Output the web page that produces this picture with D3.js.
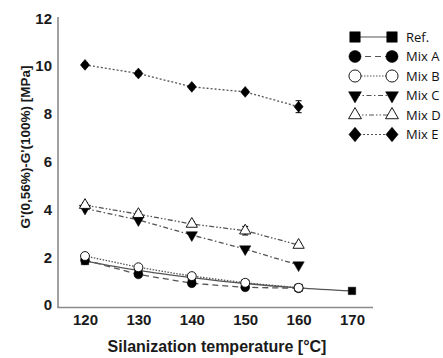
<!DOCTYPE html>
<html><head><meta charset="utf-8">
<script src="https://cdn.jsdelivr.net/npm/d3@7"></script>
<style>body{margin:0;background:#fff}svg{display:block}</style>
</head><body><svg id="c" width="443" height="358"></svg>
<script>
const temps = [120,130,140,150,160,170];
const seriesNames = ["Ref.","Mix A","Mix B","Mix C","Mix D","Mix E"];
const refVals  = [1.84,1.45,1.15,0.90,0.72,0.59];
const mixAVals = [1.88,1.28,0.91,0.74,0.70];
const mixBVals = [2.05,1.58,1.21,0.93,0.72];
const mixCVals = [4.04,3.56,2.93,2.34,1.67];
const mixDVals = [4.18,3.80,3.39,3.11,2.51];
const mixEVals = [10.05,9.69,9.13,8.92,8.30];
const mixEErr  = [0.08,0.1,0.08,0.08,0.25];
const mixDErr  = [0.1,0.12,0.1,0.18,0.08];
const yTicks = [0,2,4,6,8,10,12];
const xTicks = [120,130,140,150,160,170];

const svg = d3.select("#c");
const x = d3.scaleLinear().domain([120,170]).range([85,352]);
const y = d3.scaleLinear().domain([0,12]).range([305,18.3]);
const FONT = "'Liberation Sans',Arial,sans-serif";

svg.append("line").attr("x1",58).attr("x2",58).attr("y1",17).attr("y2",307.5).attr("stroke","#8a8a8a").attr("stroke-width",1.6);
svg.append("line").attr("x1",57.2).attr("x2",373).attr("y1",307.5).attr("y2",307.5).attr("stroke","#8a8a8a").attr("stroke-width",1.6);

const yAxis = d3.axisLeft(y).tickValues(yTicks).tickSize(0).tickPadding(0).tickFormat(d3.format("d"));
const gy = svg.append("g").attr("transform","translate(52,0)").call(yAxis);
gy.select(".domain").remove();
gy.selectAll("text").attr("font-family",FONT).attr("font-weight","bold").attr("font-size",15).attr("fill","#1a1a1a");

const xAxis = d3.axisBottom(x).tickValues(xTicks).tickSize(0).tickPadding(0).tickFormat(d3.format("d"));
const gx = svg.append("g").attr("transform","translate(0,314)").call(xAxis);
gx.select(".domain").remove();
gx.selectAll("text").attr("font-family",FONT).attr("font-weight","bold").attr("font-size",15).attr("fill","#1a1a1a");

svg.append("text").attr("x",217).attr("y",352).attr("text-anchor","middle")
  .attr("font-family",FONT).attr("font-weight","bold").attr("font-size",16).attr("fill","#1a1a1a")
  .text("Silanization temperature [°C]");
svg.append("text").attr("transform","translate(30,147) rotate(-90)").attr("text-anchor","middle")
  .attr("font-family",FONT).attr("font-weight","bold").attr("font-size",13.5).attr("fill","#1a1a1a")
  .text("G'(0,56%)-G'(100%) [MPa]");

const series = [
  {name:seriesNames[0], vals:refVals, dash:null, sym:"square", fill:"#000", curve:true},
  {name:seriesNames[1], vals:mixAVals, dash:"6,4", sym:"circle", fill:"#000"},
  {name:seriesNames[2], vals:mixBVals, dash:"1.5,1.5", sym:"circle", fill:"#fff"},
  {name:seriesNames[3], vals:mixCVals, dash:"5,2.5,1.5,2.5", sym:"tdown", fill:"#000"},
  {name:seriesNames[4], vals:mixDVals, dash:"5,2,1.5,2,1.5,2", sym:"tup", fill:"#fff", err:mixDErr},
  {name:seriesNames[5], vals:mixEVals, dash:"2,2", sym:"diamond", fill:"#000", err:mixEErr}
];

function symPath(type, size){
  const s = {square:d3.symbolSquare, circle:d3.symbolCircle, diamond:d3.symbolDiamond, tup:d3.symbolTriangle, tdown:d3.symbolTriangle}[type];
  return d3.symbol().type(s).size(size)();
}
function drawSym(g, type, fill, cx, cy, size){
  const p = g.append("path").attr("d", symPath(type,size))
    .attr("fill", fill).attr("stroke","#000").attr("stroke-width", fill==="#fff"?0.9:0.5);
  let t = `translate(${cx},${cy})`;
  if(type==="tdown") t += " rotate(180)";
  if(type==="diamond") t += " scale(1.45,1)";
  p.attr("transform", t);
}
const sizes = {square:55, circle:62, diamond:34, tup:55, tdown:55};
const legSizes = {square:110, circle:115, diamond:60, tup:72, tdown:72};

series.forEach(s=>{
  const pts = s.vals.map((v,i)=>[temps[i],v]);
  const line = d3.line().x(d=>x(d[0])).y(d=>y(d[1]));
  if(s.curve) line.curve(d3.curveMonotoneX);
  svg.append("path").datum(pts).attr("d",line).attr("fill","none")
    .attr("stroke","#555").attr("stroke-width",1.3).attr("stroke-dasharray",s.dash);
  if(s.err){
    pts.forEach((d,i)=>{
      const e = s.err[i];
      svg.append("line").attr("x1",x(d[0])).attr("x2",x(d[0])).attr("y1",y(d[1]-e)).attr("y2",y(d[1]+e)).attr("stroke","#000").attr("stroke-width",1);
      [d[1]-e,d[1]+e].forEach(v=>svg.append("line").attr("x1",x(d[0])-3).attr("x2",x(d[0])+3).attr("y1",y(v)).attr("y2",y(v)).attr("stroke","#000").attr("stroke-width",1));
    });
  }
  pts.forEach(d=>drawSym(svg, s.sym, s.fill, x(d[0]), y(d[1]), sizes[s.sym]));
});

const legY0 = 37, legDy = 19.5;
series.forEach((s,i)=>{
  const ly = legY0 + i*legDy;
  svg.append("line").attr("x1",355).attr("x2",392).attr("y1",ly).attr("y2",ly)
    .attr("stroke","#555").attr("stroke-width",1.2).attr("stroke-dasharray",s.dash);
  drawSym(svg, s.sym, s.fill, 355, ly, legSizes[s.sym]);
  drawSym(svg, s.sym, s.fill, 392, ly, legSizes[s.sym]);
  svg.append("text").attr("x",406).attr("y",ly+4.5).attr("font-family","'Open Sans',sans-serif")
    .attr("font-size",13).attr("fill","#111").text(s.name);
});
</script></body></html>
